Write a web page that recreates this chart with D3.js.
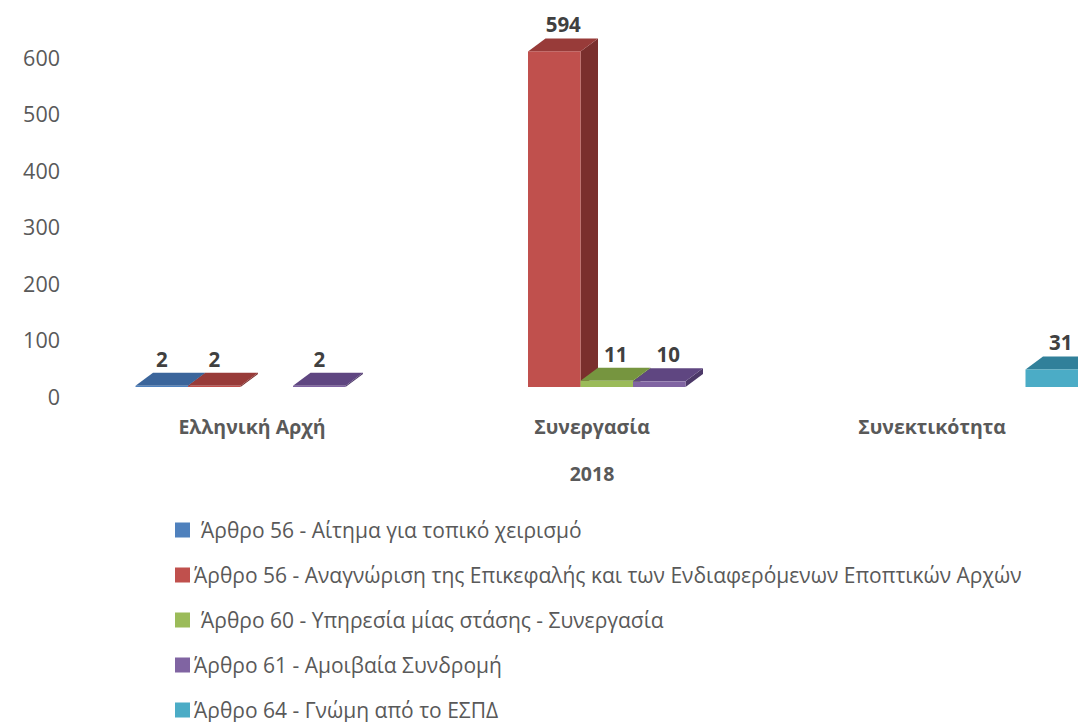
<!DOCTYPE html>
<html>
<head>
<meta charset="utf-8">
<script src="https://cdn.jsdelivr.net/npm/d3@7"></script>
<style>
html,body{margin:0;padding:0;background:#fff;overflow:hidden}
svg{display:block}
text{font-family:"Open Sans",sans-serif}
</style>
</head>
<body>
<div id="chart"></div>
<script>
const categories = ["Ελληνική Αρχή", "Συνεργασία", "Συνεκτικότητα"];
const seriesNames = [
  "Άρθρο 56 - Αίτημα για τοπικό χειρισμό",
  "Άρθρο 56 - Αναγνώριση της Επικεφαλής και των Ενδιαφερόμενων Εποπτικών Αρχών",
  "Άρθρο 60 - Υπηρεσία μίας στάσης - Συνεργασία",
  "Άρθρο 61 - Αμοιβαία Συνδρομή",
  "Άρθρο 64 - Γνώμη από το ΕΣΠΔ"
];
const article56Local = [2, null, null];
const article56Lead = [2, 594, null];
const article60 = [null, 11, null];
const article61 = [2, 10, null];
const article64 = [null, null, 31];
const seriesValues = [article56Local, article56Lead, article60, article61, article64];
const yTicks = [0, 100, 200, 300, 400, 500, 600];
const axisTitle = "2018";
const frontColors = ["#4f81bd", "#c0504d", "#9bbb59", "#8064a2", "#4bacc6"];
const topColors = ["#3b659b", "#983b39", "#76953f", "#5f4681", "#31809a"];
const sideColors = ["#2f5179", "#7a2f2d", "#5f7a32", "#4c3868", "#27677c"];
const legendTextX = [201, 194, 201, 194, 194];

const width = 1078, height = 722;
const textColor = "#595959", labelColor = "#404040";
const svg = d3.select("#chart").append("svg").attr("width", width).attr("height", height);

const y = d3.scaleLinear().domain([0, 600]).range([397.5, 58.5]);
const x0 = d3.scaleBand().domain(categories).range([82, 1102]);
const x1 = d3.scaleBand().domain(d3.range(seriesNames.length)).range([53.5, 316]);
const depthX = 17.5, depthY = 13, floorLift = 10.5;

// y axis
const yAxis = d3.axisLeft(y).tickValues(yTicks).tickSize(0).tickPadding(0);
const gy = svg.append("g").attr("transform", "translate(60,0)").call(yAxis);
gy.select(".domain").remove();
gy.selectAll("text").attr("fill", textColor).style("font-size", "21.5px").style("font-family", '"Open Sans",sans-serif');

// category axis
const xAxis = d3.axisBottom(x0).tickSize(0).tickPadding(0);
const gx = svg.append("g").attr("transform", "translate(0,420)").call(xAxis);
gx.select(".domain").remove();
gx.selectAll("text").attr("fill", textColor).style("font-size", "19.5px").style("font-weight", "700").style("font-family", '"Open Sans",sans-serif');

svg.append("text").attr("x", x0("Συνεργασία") + x0.bandwidth() / 2).attr("y", 481)
  .attr("text-anchor", "middle").attr("fill", textColor)
  .style("font-size", "19.5px").style("font-weight", "700").text(axisTitle);

// 3D bars
const bars = [];
categories.forEach((c, ci) => {
  seriesValues.forEach((vals, si) => {
    if (vals[ci] != null) bars.push({ c, si, v: vals[ci] });
  });
});
const pts = a => a.map(p => p.join(",")).join(" ");
const g = svg.append("g");
bars.forEach(d => {
  const xl = x0(d.c) + x1(d.si), xr = xl + x1.bandwidth();
  const yb = y(0) - floorLift, yt = y(d.v) - floorLift;
  g.append("polygon").attr("fill", sideColors[d.si])
    .attr("points", pts([[xr, yt], [xr + depthX, yt - depthY], [xr + depthX, yb - depthY], [xr, yb]]));
  g.append("polygon").attr("fill", topColors[d.si])
    .attr("points", pts([[xl, yt], [xl + depthX, yt - depthY], [xr + depthX, yt - depthY], [xr, yt]]));
  g.append("rect").attr("x", xl).attr("y", yt).attr("width", xr - xl).attr("height", yb - yt)
    .attr("fill", frontColors[d.si]);
});
// data labels
bars.forEach(d => {
  const xc = x0(d.c) + x1(d.si) + x1.bandwidth() / 2 + (d.v >= 10 ? 9 : 0);
  svg.append("text").attr("x", xc).attr("y", y(d.v) - floorLift - depthY - 6)
    .attr("text-anchor", "middle").attr("fill", labelColor)
    .style("font-size", "20.5px").style("font-weight", "700").text(d.v);
});

// legend
const legendY = d3.scalePoint().domain(d3.range(seriesNames.length)).range([530, 710]);
seriesNames.forEach((name, i) => {
  svg.append("rect").attr("x", 175).attr("y", legendY(i) - 7.5).attr("width", 15).attr("height", 15)
    .attr("fill", frontColors[i]);
  svg.append("text").attr("x", legendTextX[i]).attr("y", legendY(i) + 7.5)
    .attr("fill", textColor).style("font-size", "21px").text(name);
});
</script>
</body>
</html>
